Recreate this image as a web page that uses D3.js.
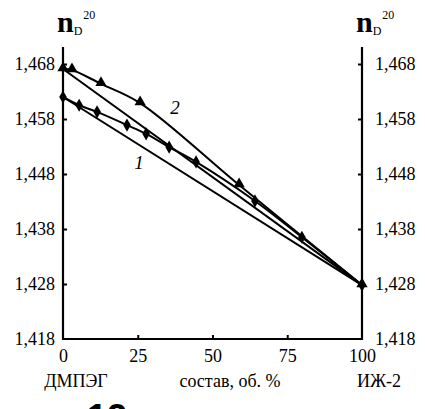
<!DOCTYPE html>
<html><head><meta charset="utf-8">
<script src="https://cdn.jsdelivr.net/npm/d3@7"></script>
</head><body style="margin:0">
<script>
const xTicks = [0, 25, 50, 75, 100];
const yTicks = [1.418, 1.428, 1.438, 1.448, 1.458, 1.468];
const s1x = [0, 5.4, 11.4, 21.4, 27.8, 35.5, 44.5, 64.2, 79.9, 100];
const s1y = [1.4620, 1.4605, 1.4593, 1.4569, 1.4553, 1.4529, 1.4502, 1.4431, 1.4365, 1.4278];
const s2x = [0, 3.0, 12.7, 25.8, 58.9, 100];
const s2y = [1.4671, 1.4669, 1.4644, 1.4609, 1.4460, 1.4278];
const ideal1 = [[0, 1.4620], [100, 1.4278]];
const ideal2 = [[0, 1.4671], [100, 1.4278]];

const W = 425, H = 409;
const SERIF = "Liberation Serif";
const svg = d3.select("body").append("svg").attr("width", W).attr("height", H);
const x = d3.scaleLinear().domain([0, 100]).range([63, 362]);
const y = d3.scaleLinear().domain([1.418, 1.468]).range([339, 64]);
const yTop = 47;
const fmt = d => d3.format(".3f")(d).replace(".", ",");

// lines
const line = d3.line().x(d => x(d[0])).y(d => y(d[1]));
const lineSmooth = d3.line().x(d => x(d[0])).y(d => y(d[1])).curve(d3.curveCatmullRom.alpha(0.5));
const g = svg.append("g").attr("fill", "none").attr("stroke", "#000").attr("stroke-width", 2);
g.append("path").attr("d", line(ideal1));
g.append("path").attr("d", line(ideal2));
const d1 = s1x.map((v, i) => [v, s1y[i]]);
const d2 = s2x.map((v, i) => [v, s2y[i]]);
g.append("path").attr("d", lineSmooth(d1));
g.append("path").attr("d", lineSmooth(d2));

// markers
svg.append("g").selectAll("path").data(d1).join("path")
  .attr("transform", d => `translate(${x(d[0])},${y(d[1])})`)
  .attr("d", d3.symbol(d3.symbolDiamond, 50)).attr("fill", "#000");
svg.append("g").selectAll("path").data(d2).join("path")
  .attr("transform", d => `translate(${x(d[0])},${y(d[1]) - 1})`)
  .attr("d", d3.symbol(d3.symbolTriangle, 55)).attr("fill", "#000");

// axes
function styleAxis(sel) {
  sel.attr("font-family", SERIF).attr("font-size", 18);
  sel.select(".domain").remove();
  sel.selectAll("line").attr("stroke", "#000").attr("stroke-width", 2);
  sel.selectAll("text").attr("font-family", SERIF).attr("font-size", 18).attr("fill", "#000");
}
svg.append("g").attr("transform", "translate(63,0)")
  .call(d3.axisLeft(y).tickValues(yTicks).tickSize(-4).tickPadding(8).tickFormat(fmt)).call(styleAxis);
svg.append("g").attr("transform", "translate(362,0)")
  .call(d3.axisRight(y).tickValues(yTicks).tickSize(-4).tickPadding(13).tickFormat(fmt)).call(styleAxis);
svg.append("g").attr("transform", "translate(0,339)")
  .call(d3.axisBottom(x).tickValues(xTicks).tickSize(-4).tickPadding(10)).call(styleAxis);
svg.selectAll(".tick").filter(d => d === 0 || d === 100 || d === 1.418).select("line").remove();

const ax = svg.append("g").attr("stroke", "#000").attr("stroke-width", 2.2).attr("fill", "none");
ax.append("path").attr("d", `M${x(0)},${yTop}V${y(1.418)}H${x(100)}V${yTop}`);

function nd(xp) {
  const t = svg.append("text").attr("x", xp).attr("y", 32).attr("font-family", SERIF).attr("fill", "#000");
  t.append("tspan").text("n").attr("font-size", 30).attr("font-weight", "bold");
  t.append("tspan").text("D").attr("font-size", 12).attr("dy", 3);
  t.append("tspan").text("20").attr("font-size", 12).attr("dy", -16).attr("dx", 1);
}
nd(57);
nd(356);
svg.append("text").attr("x", 175).attr("y", 114).text("2").attr("font-family", SERIF)
  .attr("font-style", "italic").attr("font-size", 19).attr("text-anchor", "middle");
svg.append("text").attr("x", 139).attr("y", 169).text("1").attr("font-family", SERIF)
  .attr("font-style", "italic").attr("font-size", 19).attr("text-anchor", "middle");
const bl = [["ДМПЭГ", 76], ["состав, об. %", 230], ["ИЖ-2", 379]];
svg.append("g").selectAll("text").data(bl).join("text")
  .attr("x", d => d[1]).attr("y", 387).attr("text-anchor", "middle")
  .attr("font-family", SERIF).attr("font-size", 18).text(d => d[0]);
svg.append("text").attr("x", 107).attr("y", 430).attr("text-anchor", "middle")
  .attr("font-family", "Liberation Sans").attr("font-weight", "bold").attr("font-size", 36).text("12");
</script>
</body></html>
